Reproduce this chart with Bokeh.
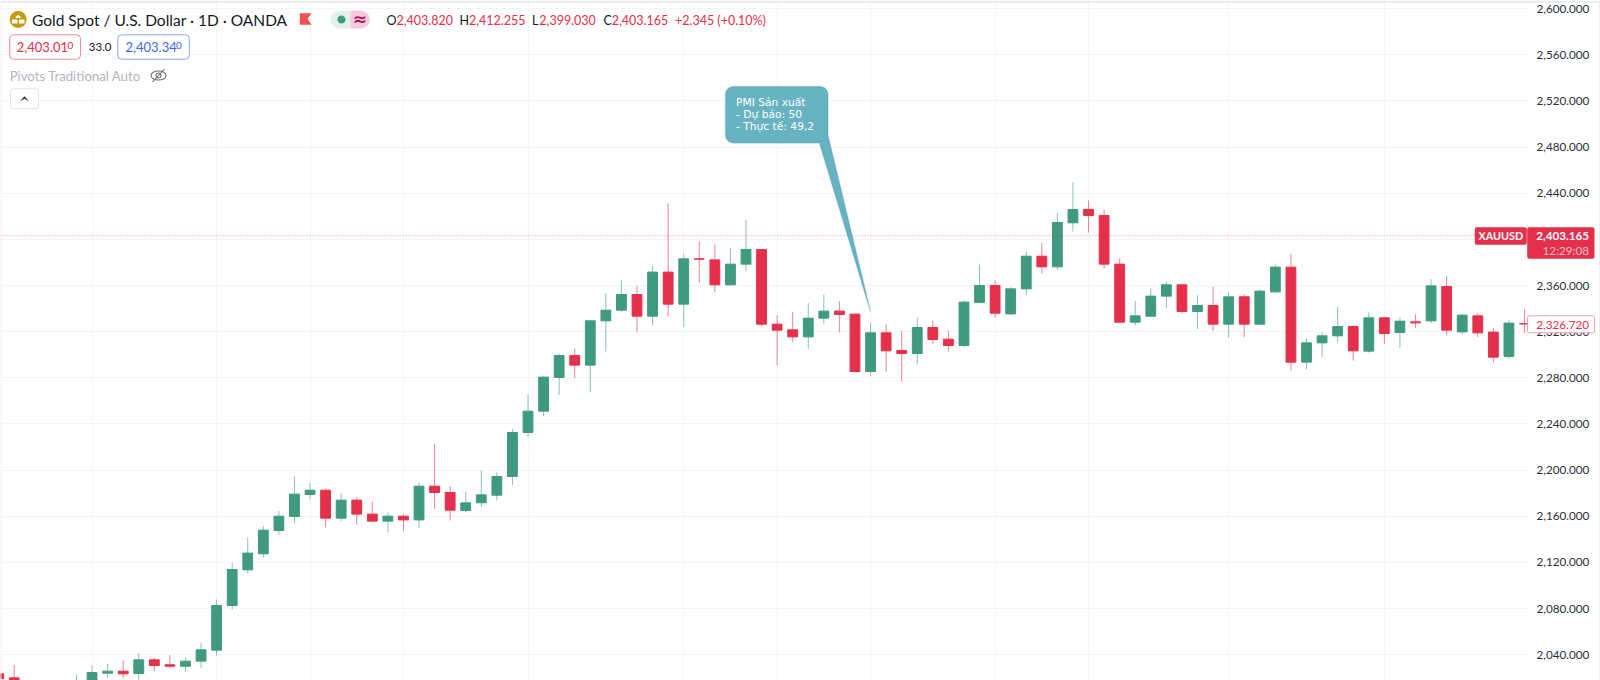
import numpy as np
from bokeh.embed import file_html
from bokeh.resources import INLINE
from bokeh.plotting import figure
from bokeh.models import (ColumnDataSource, FixedTicker, NumeralTickFormatter, Label, Span,
                          BoxAnnotation, PolyAnnotation, LinearAxis)

# ---- data -----------------------------------------------------------------------
days = list(range(-1, 98))
opens = [2023.5, 2020.0, 1992, 2001, 2005, 2006, 2012, 2024.1, 2025.8, 2023.8, 2035.6, 2031.3, 2030.1, 2034.5,
         2044.0, 2082.7, 2113.6, 2127.5, 2147.7, 2159.8, 2178.9, 2182.6, 2158.4, 2174.0, 2161.9, 2155.8, 2160.1,
         2156.9, 2186.1, 2180.6, 2165.0, 2171.7, 2178.3, 2194.5, 2232.6, 2251.1, 2280.3, 2299.3, 2291.0, 2329.4,
         2338.6, 2352.2, 2333.4, 2371.6, 2343.8, 2383.1, 2382.2, 2360.6, 2378.5, 2391.2, 2326.5, 2321.6, 2315.5,
         2331.7, 2337.8, 2335.2, 2285.5, 2319.0, 2303.7, 2301.1, 2323.6, 2313.5, 2308.0, 2345.3, 2360.0, 2335.4,
         2357.1, 2385.4, 2376.2, 2414.3, 2425.9, 2420.7, 2378.5, 2328.2, 2333.4, 2350.8, 2360.6, 2337.5, 2342.7,
         2326.5, 2350.2, 2326.5, 2354.5, 2375.9, 2293.6, 2310.3, 2316.4, 2324.4, 2303.1, 2332.0, 2319.3, 2328.5,
         2329.4, 2359.1, 2319.8, 2333.7, 2319.6, 2298.5, 2326.9]
closes = [2019.2, 2012.0, 2001, 2006, 2009, 2014, 2024.6, 2025.8, 2023.5, 2035.6, 2030.7, 2030.1, 2034.5, 2044.3,
          2082.7, 2113.9, 2128.1, 2148.0, 2160.1, 2179.2, 2182.6, 2158.4, 2174.0, 2161.9, 2155.8, 2160.1, 2156.9,
          2186.1, 2180.6, 2165.3, 2171.7, 2178.6, 2194.5, 2232.6, 2251.1, 2280.6, 2299.3, 2291.0, 2329.4, 2338.6,
          2352.2, 2333.4, 2371.6, 2343.8, 2383.1, 2382.8, 2360.6, 2378.5, 2391.2, 2326.5, 2321.3, 2315.5, 2331.7,
          2337.8, 2334.9, 2285.5, 2319.0, 2303.4, 2301.1, 2323.6, 2313.2, 2308.0, 2345.6, 2360.0, 2336.0, 2357.1,
          2385.4, 2376.2, 2414.6, 2425.9, 2420.7, 2378.5, 2328.2, 2333.7, 2350.8, 2360.6, 2337.5, 2342.7, 2326.5,
          2350.2, 2326.5, 2355.1, 2375.9, 2293.6, 2310.3, 2316.4, 2324.4, 2303.4, 2332.0, 2318.4, 2329.1, 2327.6,
          2359.7, 2321.3, 2334.3, 2319.0, 2297.9, 2327.4, 2326.72]
highs = [2026.0, 2031.3, 2009, 2012, 2014, 2022.9, 2030.7, 2032.2, 2035.0, 2041.4, 2037.4, 2039.7, 2037.9, 2050.4,
         2087.9, 2119.7, 2141.6, 2151.7, 2164.7, 2194.8, 2189.0, 2184.1, 2179.8, 2176.6, 2172.8, 2163.3, 2162.1,
         2189.0, 2222.5, 2186.1, 2181.5, 2199.7, 2198.0, 2235.8, 2265.5, 2281.1, 2300.8, 2305.4, 2330.2, 2353.6,
         2364.9, 2359.7, 2377.3, 2431.0, 2387.4, 2397.8, 2395.5, 2392.3, 2416.9, 2391.5, 2334.3, 2337.2, 2344.7,
         2352.2, 2346.4, 2335.4, 2327.9, 2326.2, 2320.4, 2332.0, 2329.7, 2321.0, 2347.0, 2378.2, 2364.3, 2358.6,
         2389.5, 2397.0, 2422.7, 2449.5, 2433.7, 2425.6, 2383.4, 2346.7, 2357.7, 2363.5, 2360.9, 2351.6, 2359.1,
         2354.2, 2352.5, 2356.5, 2378.2, 2387.4, 2313.8, 2319.6, 2341.5, 2325.9, 2336.6, 2332.3, 2332.5, 2334.9,
         2365.5, 2368.4, 2334.6, 2336.3, 2323.3, 2330.2, 2339.5]
lows = [2014.0, 2005.0, 1988, 1998, 2002, 2002, 2008, 2020.0, 2019.7, 2017.7, 2025.5, 2028.7, 2024.9, 2028.4,
        2039.4, 2079.2, 2110.7, 2124.0, 2143.9, 2154.0, 2174.6, 2150.3, 2155.8, 2152.6, 2155.5, 2146.0, 2147.1,
        2149.7, 2166.5, 2156.4, 2163.6, 2167.9, 2173.7, 2187.3, 2228.6, 2246.8, 2265.2, 2279.7, 2267.6, 2302.8,
        2337.2, 2319.3, 2325.6, 2333.7, 2323.9, 2362.6, 2354.2, 2360.0, 2372.4, 2324.8, 2291.0, 2311.2, 2305.1,
        2326.2, 2319.3, 2284.9, 2281.4, 2285.5, 2277.1, 2291.5, 2309.7, 2302.8, 2306.6, 2344.7, 2332.3, 2334.3,
        2351.6, 2370.4, 2373.6, 2406.8, 2405.9, 2374.7, 2327.4, 2325.3, 2332.5, 2340.1, 2336.0, 2322.2, 2320.4,
        2314.9, 2315.2, 2326.2, 2353.9, 2286.3, 2287.5, 2297.6, 2310.6, 2295.0, 2301.9, 2309.4, 2305.7, 2323.3,
        2327.6, 2316.7, 2317.5, 2315.2, 2293.3, 2296.2, 2318.7]
price_ticks = list(range(2040, 2601, 40))
grid_days = [5, 13, 19, 25, 33, 43, 49, 55, 63, 69, 78, 88]
last_price = 2403.165
title = "Gold Spot / U.S. Dollar \u00b7 1D \u00b7 OANDA"
ohlc = [("O", "2,403.820"), ("H", "2,412.255"), ("L", "2,399.030"), ("C", "2,403.165")]
callout = ["PMI S\u1ea3n xu\u1ea5t", "- D\u1ef1 b\u00e1o: 50", "- Th\u1ef1c t\u1ebf: 49,2"]

# ---- page geometry ---------------------------------------------------------------
W, H, FRAME_W = 1600, 680, 1527
PXX, PXY = 15.57, 1.154
X0 = 13.7
def X(px): return (px - X0) / PXX
def Y(py): return 2360 - (py - 285) / PXY

GREEN, RED = "#3f9a80", "#e4304b"
FONT = "Lato"

p = figure(width=W, height=H, output_backend="svg", toolbar_location=None,
           x_range=(X(0), X(W)), y_range=(Y(H), Y(0)),
           min_border_left=0, min_border_top=0, min_border_bottom=0, min_border_right=0,
           background_fill_color="white", border_fill_color="white",
           outline_line_color=None)
p.xaxis.visible = False
p.yaxis.visible = False
p.xgrid.ticker = FixedTicker(ticks=grid_days)
p.ygrid.ticker = FixedTicker(ticks=price_ticks)
p.xgrid.grid_line_color = p.ygrid.grid_line_color = "#f4f5f7"

price_axis = LinearAxis(ticker=FixedTicker(ticks=price_ticks), formatter=NumeralTickFormatter(format="0,0.000"),
                        fixed_location=X(FRAME_W), axis_line_color=None, major_tick_line_color=None,
                        minor_tick_line_color=None, major_tick_out=0, major_label_standoff=9,
                        major_label_text_font=FONT, major_label_text_font_size="11.7px",
                        major_label_text_color="#2a2e39")
p.add_layout(price_axis, "right")

# ---- candles ---------------------------------------------------------------------
up = [c >= o for o, c in zip(opens, closes)]
def subset(flag):
    idx = [i for i, u in enumerate(up) if u == flag]
    return ColumnDataSource(dict(
        x=[days[i] for i in idx], o=[opens[i] for i in idx], c=[closes[i] for i in idx],
        h=[highs[i] for i in idx], l=[lows[i] for i in idx]))
for flag, col in ((True, GREEN), (False, RED)):
    src = subset(flag)
    p.segment("x", "h", "x", "l", source=src, line_color=col, line_alpha=0.6, line_width=1)
    p.vbar("x", top="o", bottom="c", width=0.63, source=src, fill_color=col, line_color=col, line_width=1)

p.add_layout(Span(location=last_price, dimension="width", line_color=RED, line_alpha=0.55,
                  line_dash="1 2", line_width=1, level="glyph"))
# the axis column hides the grid, the price line and the last candle's overhang
p.add_layout(BoxAnnotation(left=X(FRAME_W), right=X(W), top=Y(0), bottom=Y(H), fill_color="white", fill_alpha=1,
                           line_color=None, level="glyph"))

# ---- helpers ---------------------------------------------------------------------
def text(px, py, s, color="#131722", size=13, align="left", style="normal", font=FONT):
    p.add_layout(Label(x=X(px), y=Y(py), text=s, text_color=color, text_font=font,
                       text_font_size=f"{size}px", text_align=align, text_baseline="middle",
                       text_font_style=style, level="overlay"))
def box(l, t, r, b, fill, line=None, radius=0, width=1):
    p.add_layout(BoxAnnotation(left=X(l), right=X(r), top=Y(t), bottom=Y(b), fill_color=fill, fill_alpha=1,
                               line_color=line, line_width=width, line_alpha=1, border_radius=radius,
                               level="overlay"))
def poly(pts, fill, line=None, lw=1):
    p.add_layout(PolyAnnotation(xs=[X(a) for a, _ in pts], ys=[Y(b) for _, b in pts], fill_color=fill,
                                fill_alpha=1, line_color=line, line_width=lw, level="overlay"))

# ---- window edge -----------------------------------------------------------------
box(0, 0, W, 2.5, "#eceff2")
box(0, 0, 1, H, "#eceff2")
box(1598.5, 0, W, H, "#eceff2")

# ---- callout ---------------------------------------------------------------------
def rounded(l, t, r, b, rad, n=6):
    pts = []
    for cx, cy, a0 in ((r - rad, t + rad, -90), (r - rad, b - rad, 0), (l + rad, b - rad, 90), (l + rad, t + rad, 180)):
        for a in np.linspace(a0, a0 + 90, n):
            pts.append((cx + rad * np.cos(np.radians(a)), cy + rad * np.sin(np.radians(a))))
    return pts
outline = rounded(725, 86, 827.5, 142.5, 8)
shape = outline[:6] + [(827.5, 135), (870, 311), (819, 142.5)] + outline[12:]
poly(shape, "#68b3c1", "#3c97a7", 1.5)
for py, s in zip((102, 113.7, 125.7), callout):
    text(735.5, py, s, color="white", size=10.7, font="DejaVu Sans")

# ---- header ----------------------------------------------------------------------
p.scatter([X(17.7)], [Y(19)], size=17, marker="circle", fill_color="#c8980e", line_color=None)
poly([(14.5, 17.5), (17.7, 14), (21, 17.5)], "white")
box(11.5, 19, 17, 23, "white")
box(18.5, 19, 24, 23, "white")
text(31.5, 19.5, title, size=15.5)
poly([(299.3, 12.7), (311, 12.7), (307, 18.5), (311, 24.3), (299.3, 24.3)], "#f0504f")

box(330, 10, 350, 28, "#e3f1ed", radius=9)
box(350, 10, 369.3, 28, "#f5c9dc", radius=9)
box(342, 10, 350, 28, "#e3f1ed")
box(350, 10, 358, 28, "#f5c9dc")
poly([(341 + 4 * np.cos(a), 19 + 4 * np.sin(a)) for a in np.linspace(0, 2 * np.pi, 20)], GREEN)
text(359.3, 18.5, "\u2248", color="#b0145f", size=17, align="center", style="bold", font="DejaVu Sans")

for (letter, val), lx, vx in zip(ohlc, (386, 459, 531.6, 603), (396, 468.4, 538.8, 611.2)):
    text(lx, 19.5, letter, size=12.5)
    text(vx, 19.5, val, color=RED, size=12.5)
text(674.5, 19.5, "+2.345", color=RED, size=12.5)
text(716.8, 19.5, "(+0.10%)", color=RED, size=12.5)

box(9.2, 34.3, 80, 58.7, "white", line="#ec8b98", radius=4)
text(16.3, 46.8, "2,403.01", color=RED, size=13)
text(67, 44.8, "0", color=RED, size=10)
text(88.3, 46.8, "33.0", size=11.5)
box(117.3, 34.3, 188.8, 58.7, "white", line="#8aa3f5", radius=4)
text(125, 46.8, "2,403.34", color="#3f66e8", size=13)
text(175.5, 44.8, "0", color="#3f66e8", size=10)
text(9.2, 75.3, "Pivots Traditional Auto", color="#b2b5be", size=13.2)

# eye icon
p.ellipse([X(158)], [Y(75)], width=15 / PXX, height=9 / PXY, fill_color=None, line_color="#6a6d78", line_width=1.1)
p.scatter([X(158)], [Y(75)], size=5, marker="circle", fill_color=None, line_color="#6a6d78", line_width=1.1)
p.segment([X(152)], [Y(81.5)], [X(164)], [Y(68.5)], line_color="#6a6d78", line_width=1.1)

# collapse button
box(10, 88.3, 38, 108.3, "white", line="#e0e3eb", radius=3)
poly([(20, 100.5), (24, 96), (28, 100.5), (24, 98)], "#131722", "#131722", 0.8)

# ---- axis tags -------------------------------------------------------------------
box(1474.3, 226.7, 1526.3, 244.3, RED, radius=2)
text(1500.3, 235.3, "XAUUSD", color="white", size=10.8, align="center", style="bold")
box(1526.7, 226.7, 1594, 258.3, RED, radius=2)
text(1588.6, 235.3, "2,403.165", color="white", size=11.7, align="right", style="bold")
text(1588.6, 249, "12:29:08", color="#f7c0c8", size=11.7, align="right")
box(1527, 315.3, 1594, 332.3, "white", line="#f0a0ac", radius=2)
text(1588.6, 324, "2,326.720", color=RED, size=11.7, align="right")

open("out.html", "w").write(file_html(p, INLINE))
